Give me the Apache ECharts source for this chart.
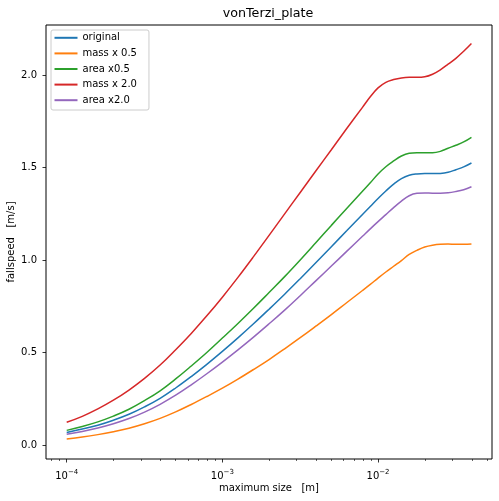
<!DOCTYPE html>
<html>
<head>
<meta charset="utf-8">
<script src="https://cdn.jsdelivr.net/npm/echarts@6/dist/echarts.min.js"></script>
<style>
html,body{margin:0;padding:0;background:#fff;}
#chart{width:499px;height:501px;}
</style>
</head>
<body>
<div id="chart"></div>
<script>
// maximum size [m]
const sizes = [1.000e-4, 1.259e-4, 1.585e-4, 1.995e-4, 2.512e-4, 3.162e-4, 3.981e-4, 5.012e-4, 6.310e-4, 7.943e-4,
  1.000e-3, 1.259e-3, 1.585e-3, 1.995e-3, 2.512e-3, 3.162e-3, 3.981e-3, 5.012e-3, 6.310e-3, 7.943e-3,
  8.913e-3, 1.000e-2, 1.122e-2, 1.259e-2, 1.413e-2, 1.585e-2, 1.778e-2, 1.995e-2, 2.239e-2, 2.512e-2,
  2.818e-2, 3.162e-2, 3.548e-2, 3.981e-2];
// fallspeed [m/s]
const original = [0.068, 0.086, 0.107, 0.134, 0.166, 0.206, 0.252, 0.308, 0.370, 0.436,
  0.506, 0.579, 0.655, 0.734, 0.815, 0.899, 0.985, 1.072, 1.159, 1.246,
  1.289, 1.332, 1.373, 1.410, 1.440, 1.458, 1.465, 1.467, 1.467, 1.468,
  1.474, 1.488, 1.503, 1.524];
const massHalf = [0.033, 0.043, 0.056, 0.072, 0.091, 0.115, 0.144, 0.179, 0.219, 0.262,
  0.307, 0.356, 0.408, 0.462, 0.520, 0.580, 0.642, 0.705, 0.770, 0.835,
  0.868, 0.902, 0.935, 0.966, 0.997, 1.030, 1.052, 1.070, 1.080, 1.085,
  1.086, 1.085, 1.085, 1.087];
const areaHalf = [0.079, 0.100, 0.125, 0.156, 0.193, 0.240, 0.293, 0.357, 0.427, 0.500,
  0.578, 0.657, 0.739, 0.824, 0.910, 1.000, 1.093, 1.187, 1.280, 1.371,
  1.417, 1.465, 1.504, 1.535, 1.562, 1.577, 1.580, 1.580, 1.580, 1.587,
  1.604, 1.620, 1.638, 1.663];
const massDouble = [0.123, 0.155, 0.195, 0.242, 0.297, 0.360, 0.432, 0.515, 0.603, 0.698,
  0.799, 0.906, 1.018, 1.133, 1.249, 1.365, 1.481, 1.596, 1.712, 1.825,
  1.882, 1.930, 1.960, 1.975, 1.984, 1.987, 1.987, 1.990, 2.004, 2.028,
  2.058, 2.090, 2.128, 2.170];
const areaDouble = [0.058, 0.073, 0.092, 0.115, 0.143, 0.178, 0.220, 0.269, 0.325, 0.385,
  0.448, 0.514, 0.583, 0.655, 0.729, 0.807, 0.887, 0.967, 1.048, 1.128,
  1.168, 1.207, 1.245, 1.283, 1.318, 1.347, 1.360, 1.362, 1.361, 1.361,
  1.363, 1.370, 1.380, 1.396];

const seriesNames = ['original', 'mass x 0.5', 'area x0.5', 'mass x 2.0', 'area x2.0'];
const seriesValues = [original, massHalf, areaHalf, massDouble, areaDouble];
const colors = ['#1f77b4', '#ff7f0e', '#2ca02c', '#d62728', '#9467bd'];

const xMajorTicks = [1e-4, 1e-3, 1e-2];
const xMinorTicks = [8e-5, 9e-5,
  2e-4, 3e-4, 4e-4, 5e-4, 6e-4, 7e-4, 8e-4, 9e-4,
  2e-3, 3e-3, 4e-3, 5e-3, 6e-3, 7e-3, 8e-3, 9e-3,
  2e-2, 3e-2, 4e-2, 5e-2];
const yTicks = [0.0, 0.5, 1.0, 1.5, 2.0];

const titleText = 'vonTerzi_plate';
const xTitle = 'maximum size\u00a0\u00a0\u00a0[m]';
const yTitle = 'fallspeed\u00a0\u00a0\u00a0[m/s]';

const FONT = 'DejaVu Sans';
const lg = v => Math.log10(v);
const xMin = -4.133, xMax = -1.268;

const chart = echarts.init(document.getElementById('chart'), null, {renderer: 'canvas'});
chart.setOption({
  animation: false,
  backgroundColor: '#ffffff',
  textStyle: {fontFamily: FONT},
  graphic: [{
    type: 'text', x: 268, y: 14,
    style: {text: titleText, align: 'center', verticalAlign: 'middle',
      font: '12.7px "DejaVu Sans"', fill: '#000'}
  }],
  grid: {left: 46, right: 7, top: 25, bottom: 42, show: true, containLabel: false,
    outerBoundsMode: 'none',
    borderColor: '#000', borderWidth: 1, backgroundColor: 'transparent'},
  legend: {
    orient: 'vertical', left: 51, top: 30,
    data: seriesNames,
    icon: 'rect', itemWidth: 23, itemHeight: 2, itemGap: 0, itemTextGap: 10,
    itemStyle: {borderWidth: 0},
    textStyle: {fontFamily: FONT, fontSize: 10, color: '#000', lineHeight: 15.6},
    padding: [0, 12, 2, 3.5],
    backgroundColor: '#fff', borderColor: '#cccccc', borderWidth: 1, borderRadius: 2
  },
  xAxis: [{
    type: 'value', min: xMin, max: xMax,
    name: xTitle, nameLocation: 'middle', nameGap: 24, nameMoveOverlap: false,
    nameTextStyle: {fontFamily: FONT, fontSize: 10, color: '#000'},
    axisLine: {show: false, onZero: false},
    splitLine: {show: false},
    axisTick: {show: true, length: 3.5, customValues: xMajorTicks.map(lg),
      lineStyle: {color: '#000', width: 0.8}},
    axisLabel: {
      customValues: xMajorTicks.map(lg), margin: 10,
      formatter: v => '{b|10}{s|\u2212' + Math.round(-v) + '}',
      rich: {
        b: {fontFamily: FONT, fontSize: 10, color: '#000', verticalAlign: 'bottom'},
        s: {fontFamily: FONT, fontSize: 7, color: '#000', verticalAlign: 'bottom', padding: [0, 0, 5, 0]}
      }
    }
  }, {
    type: 'value', min: xMin, max: xMax, position: 'bottom',
    axisLine: {show: false, onZero: false}, splitLine: {show: false},
    axisLabel: {show: false},
    axisTick: {show: true, length: 2, customValues: xMinorTicks.map(lg),
      lineStyle: {color: '#000', width: 0.6}}
  }],
  yAxis: {
    type: 'value', min: -0.0757, max: 2.27,
    name: yTitle, nameLocation: 'middle', nameGap: 30, nameRotate: 90, nameMoveOverlap: false,
    nameTextStyle: {fontFamily: FONT, fontSize: 10, color: '#000'},
    axisLine: {show: false, onZero: false}, splitLine: {show: false},
    axisTick: {show: true, length: 3.5, customValues: yTicks,
      lineStyle: {color: '#000', width: 0.8}},
    axisLabel: {customValues: yTicks, margin: 9, color: '#000', fontSize: 10, fontFamily: FONT,
      formatter: v => v.toFixed(1)}
  },
  series: seriesNames.map((name, k) => ({
    name: name, type: 'line', xAxisIndex: 0,
    data: sizes.map((s, i) => [lg(s), seriesValues[k][i]]),
    showSymbol: false, symbol: 'none', smooth: 0.4,
    lineStyle: {width: 1.5, color: colors[k]},
    itemStyle: {color: colors[k]}
  }))
});
</script>
</body>
</html>
